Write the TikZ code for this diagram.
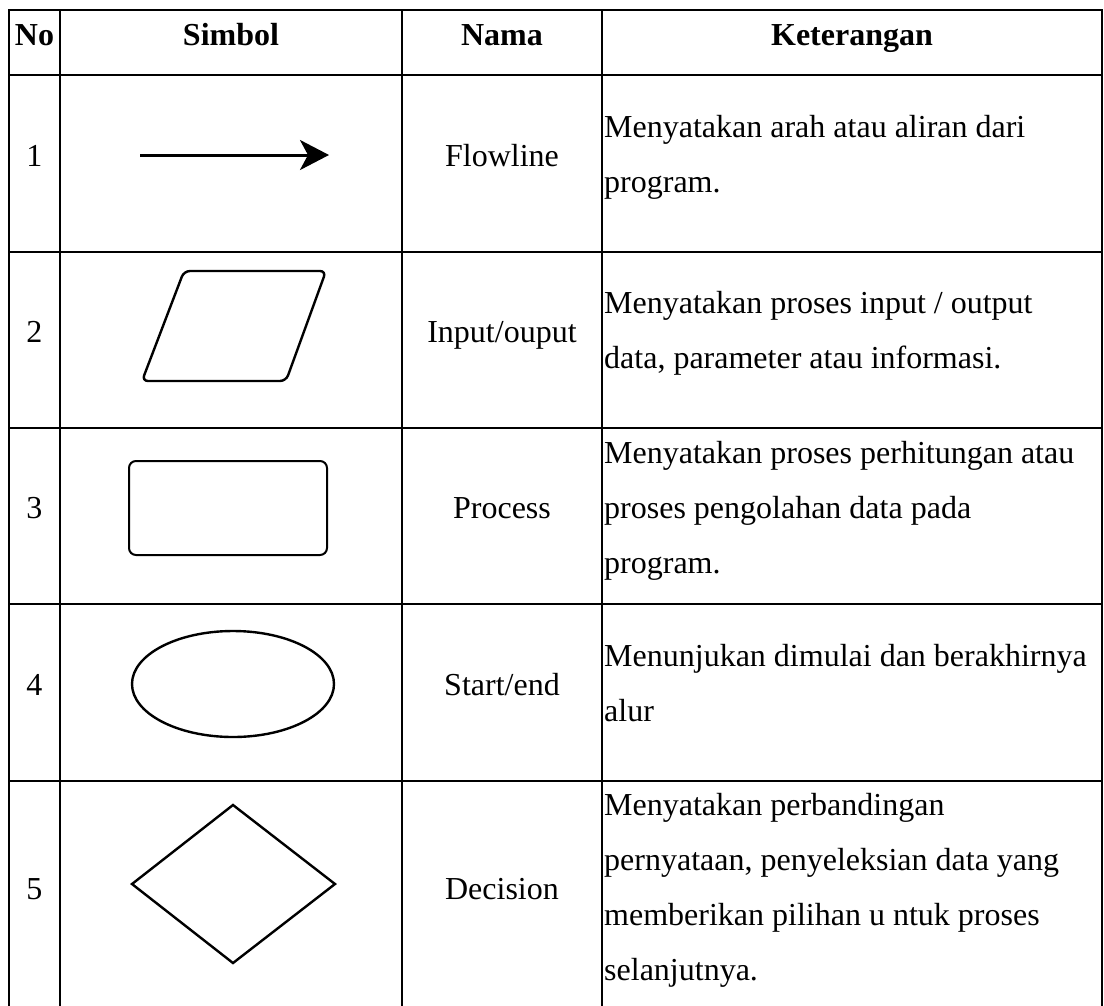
\documentclass[tikz,border=0pt]{standalone}
\usepackage{fontspec}
\setmainfont{Liberation Serif}
\usetikzlibrary{arrows.meta,positioning}

\newcommand\ketbox[1]{\parbox[t]{495pt}{\raggedright #1}}

\begin{document}
\begin{tikzpicture}[x=1pt, y=-1pt, every node/.style={inner sep=0pt, font=\fontsize{32}{55}\selectfont},
    grid/.style={line width=2pt},
    head/.style={anchor=base, font=\fontsize{32}{55}\selectfont\bfseries},
    cell/.style={anchor=base},
    desc/.style={anchor=base west},
    sym/.style={line width=2.4pt}]
			\useasboundingbox (0,0) rectangle (1104,1005);
			
			% table lines
			\draw[grid] (9,1012) -- (9,10) -- (1102,10) -- (1102,1012);
			\foreach \y in {75,252,428,604,781} \draw[grid] (9,\y) -- (1102,\y);
			\foreach \x in {60,402,602} \draw[grid] (\x,10) -- (\x,1012);
			
			% header
			\node[head] (hNo) at (34.5,45) {No};
			\node[head] (hSimbol) at (231,45) {Simbol};
			\node[head] (hNama) at (502,45) {Nama};
			\node[head] (hKet) at (852,45) {Keterangan};
			
			% number and name
			\foreach \n/\y/\nama in {1/166/Flowline, 2/342/Input\slash ouput, 3/518/Process, 4/695/Start\slash end, 5/899/Decision} {
				\node[cell] (no\n) at (34.5,\y) {\n};
				\node[cell] (nm\n) at (502,\y) {\nama};
			}
			
			% descriptions
			\node[desc] (ket1) at (604,137) {\ketbox{Menyatakan arah atau aliran dari\\ program.}};
			\node[desc] (ket2) at (604,313) {\ketbox{Menyatakan proses input / output\\ data, parameter atau informasi.}};
			\node[desc] (ket3) at (604,463) {\ketbox{Menyatakan proses perhitungan atau\\ proses pengolahan data pada\\ program.}};
			\node[desc] (ket4) at (604,666) {\ketbox{Menunjukan dimulai dan berakhirnya\\ alur}};
			\node[desc] (ket5) at (604,815) {\ketbox{Menyatakan perbandingan\\ pernyataan, penyeleksian data yang\\ memberikan pilihan u ntuk proses\\ selanjutnya.}};
			
			% symbols
			\coordinate (arrS) at (140,155);
			\coordinate (arrE) at (329,155);
			\draw[line width=3pt, -{Stealth[length=29pt, width=30pt, inset=8pt]}] (arrS) -- (arrE);
			\draw[sym, rounded corners=6pt] (184,271) -- (326,271) -- (286,381) -- (142,381) -- cycle;
			\draw[sym, line width=2pt, rounded corners=7pt] (129,461) rectangle (327,555);
			\draw[sym] (233,684) ellipse [x radius=101pt, y radius=53pt];
			\draw[sym] (233,805) -- (335,884) -- (233,963) -- (132,884) -- cycle;
		\end{tikzpicture}
\end{document}
